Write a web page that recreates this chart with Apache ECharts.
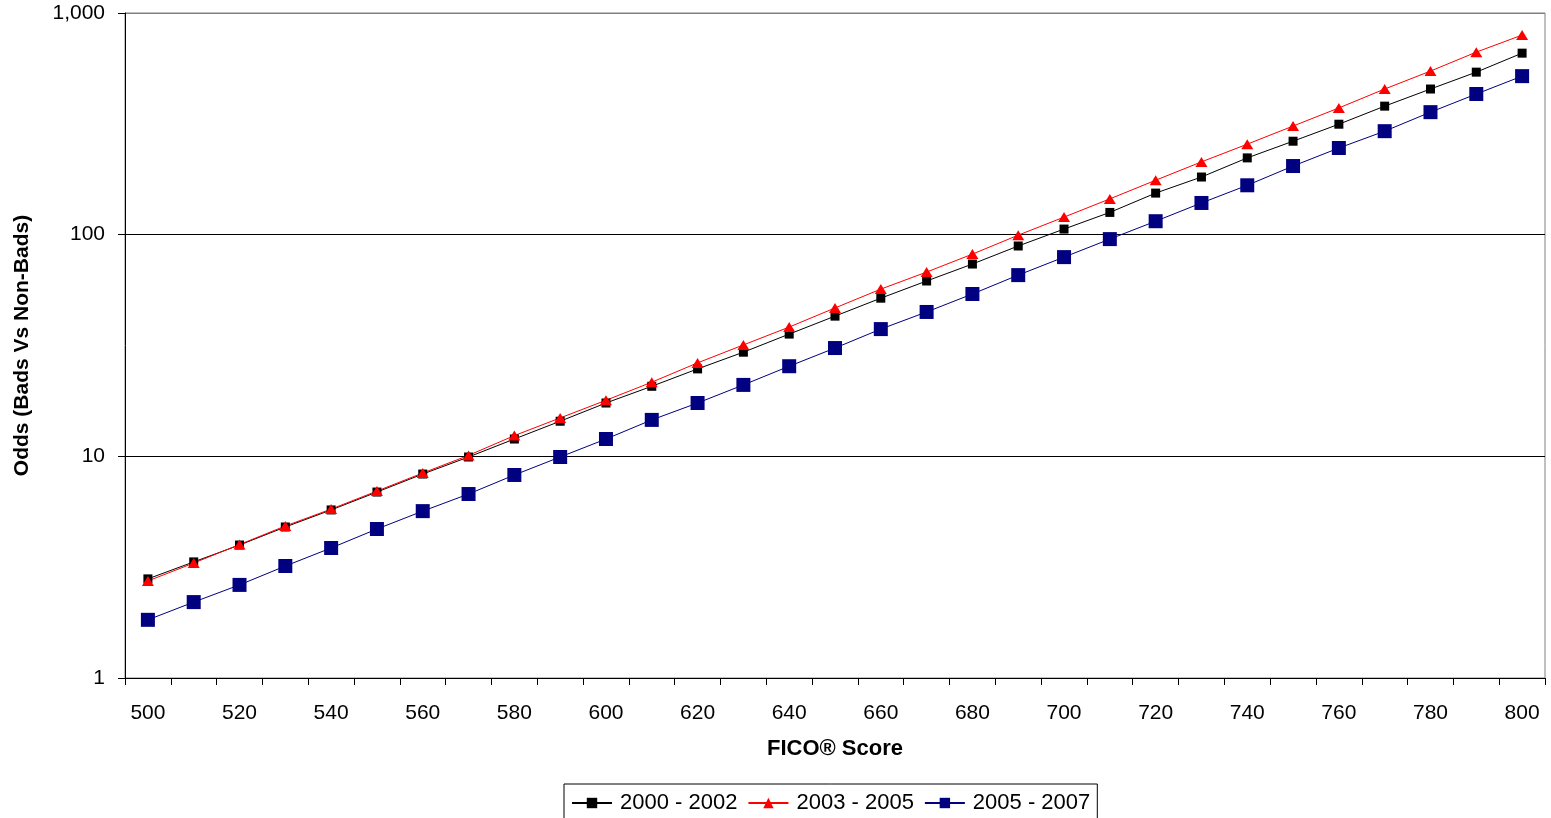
<!DOCTYPE html>
<html>
<head>
<meta charset="utf-8">
<script src="https://cdn.jsdelivr.net/npm/echarts@6/dist/echarts.min.js"></script>
<style>
  html, body { margin: 0; padding: 0; background: #fff; }
  #main { width: 1551px; height: 818px; }
</style>
</head>
<body>
<div id="main"></div>
<script>
// FICO score buckets
const scores = [500, 510, 520, 530, 540, 550, 560, 570, 580, 590, 600, 610, 620, 630, 640, 650,
  660, 670, 680, 690, 700, 710, 720, 730, 740, 750, 760, 770, 780, 790, 800];

// odds (log scale)
const odds0002 = [2.80, 3.34, 3.98, 4.80, 5.73, 6.90, 8.32, 9.93, 11.97, 14.4, 17.4, 20.7, 24.8, 29.5,
  35.6, 42.9, 51.7, 61.8, 73.7, 88.9, 106, 126, 154, 182, 222, 264, 315, 380, 454, 541, 659];
const odds0305 = [2.74, 3.30, 4.00, 4.85, 5.78, 6.97, 8.41, 10.1, 12.4, 14.9, 17.9, 21.6, 26.4, 31.8,
  38.3, 46.7, 56.8, 67.8, 81.7, 99.5, 120, 145, 176, 213, 256, 309, 373, 454, 547, 666, 795];
const odds0507 = [1.83, 2.20, 2.63, 3.20, 3.86, 4.70, 5.66, 6.76, 8.24, 9.93, 11.97, 14.6, 17.4, 21.0,
  25.5, 30.8, 37.5, 44.8, 54.0, 65.7, 79.2, 95.5, 115, 139, 167, 204, 246, 293, 357, 431, 519];

const seriesNames = ['2000 - 2002', '2003 - 2005', '2005 - 2007'];

const chart = echarts.init(document.getElementById('main'));
const font = 'Liberation Sans, Arial, sans-serif';

chart.setOption({
  backgroundColor: '#fff',
  animation: false,
  textStyle: { fontFamily: font },
  grid: {
    left: 125, right: 6, top: 13, bottom: 140,
    show: true,
    borderColor: '#808080',
    borderWidth: 1
  },
  legend: {
    data: seriesNames,
    left: 564,
    top: 784,
    padding: [8, 7, 10, 7],
    itemGap: 10,
    itemWidth: 40,
    itemHeight: 13,
    borderColor: '#000',
    borderWidth: 1,
    textStyle: { fontSize: 22, color: '#000', fontFamily: font, padding: [0, 0, 0, 3] }
  },
  xAxis: {
    type: 'category',
    data: scores,
    boundaryGap: true,
    name: 'FICO® Score',
    nameLocation: 'middle',
    nameGap: 60,
    nameTextStyle: { fontSize: 22, fontWeight: 'bold', color: '#000' },
    axisLine: { lineStyle: { color: '#000', width: 1 } },
    axisTick: { show: true, interval: 0, length: 7, lineStyle: { color: '#000' } },
    axisLabel: { interval: 1, fontSize: 21, color: '#000', margin: 25 },
    splitLine: { show: false }
  },
  yAxis: {
    type: 'log',
    logBase: 10,
    min: 1,
    max: 1000,
    name: 'Odds (Bads Vs Non-Bads)',
    nameLocation: 'middle',
    nameGap: 92,
    nameTextStyle: { fontSize: 21, fontWeight: 'bold', color: '#000' },
    axisLine: { show: true, lineStyle: { color: '#000', width: 1 } },
    axisTick: { show: true, length: 7, lineStyle: { color: '#000' } },
    axisLabel: {
      fontSize: 21, color: '#000', margin: 20,
      formatter: v => Math.round(v).toLocaleString('en-US')
    },
    splitLine: { show: true, lineStyle: { color: ['#000', '#000', '#000', '#808080'], width: 1 } }
  },
  series: [
    {
      name: seriesNames[0], type: 'line', data: odds0002,
      symbol: 'rect', symbolSize: 9,
      itemStyle: { color: '#000' },
      lineStyle: { color: '#000', width: 1 }
    },
    {
      name: seriesNames[1], type: 'line', data: odds0305,
      symbol: 'triangle', symbolSize: [12, 10],
      itemStyle: { color: '#ff0000' },
      lineStyle: { color: '#ff0000', width: 1 }
    },
    {
      name: seriesNames[2], type: 'line', data: odds0507,
      symbol: 'rect', symbolSize: 14,
      itemStyle: { color: '#000080' },
      lineStyle: { color: '#000080', width: 1 }
    }
  ]
});
</script>
</body>
</html>
